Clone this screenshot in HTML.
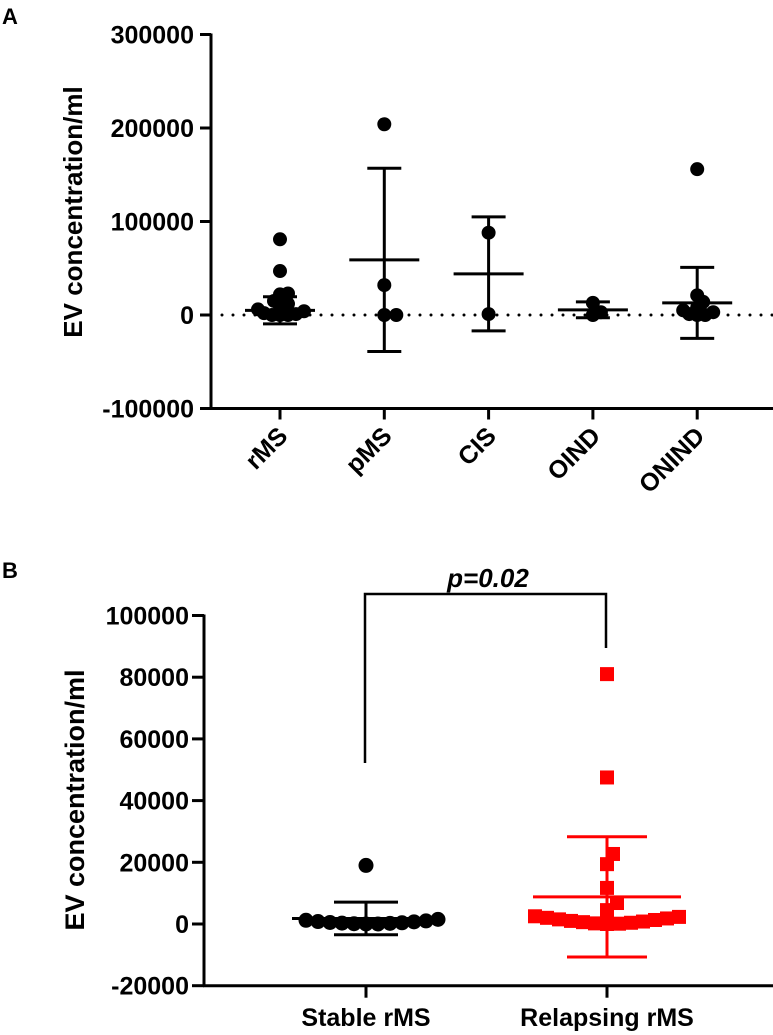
<!DOCTYPE html>
<html><head><meta charset="utf-8"><style>
html,body{margin:0;padding:0;background:#fff;}
svg{display:block;font-family:"Liberation Sans",Arial,sans-serif;font-weight:bold;}
</style></head><body>
<svg id="fig" width="773" height="1035" viewBox="0 0 773 1035" xmlns="http://www.w3.org/2000/svg">
<text x="2" y="24" font-size="22">A</text>
<text x="2" y="578" font-size="22">B</text>
<text transform="translate(82,212) rotate(-90)" text-anchor="middle" font-size="26">EV concentration/ml</text>
<text transform="translate(84,800) rotate(-90)" text-anchor="middle" font-size="27">EV concentration/ml</text>
<g id="gA"></g>
<g id="gB"></g>
<g stroke="#000" stroke-width="2.5" fill="none">
<polyline points="365,763 365,594 606,594 606,648"/>
</g>
<text x="488" y="587" text-anchor="middle" font-size="26" font-style="italic">p=0.02</text>
</svg>
<script>
const catsA=['rMS','pMS','CIS','OIND','ONIND'];
const ticksA=[300000,200000,100000,0,-100000];
const rmsA=[81000,47000,23000,22000,15000,12000,9000,6000,4000,2000,1000,0,0,0];
const pmsA=[204000,32000,0,0];
const cisA=[88000,1000];
const oindA=[0,3000,13000];
const onindA=[156000,21000,14000,8000,5000,3000,1000,0,0];
const meansA=[5000,59000,44000,5500,13000];
const sdsA=[14500,98000,61000,8500,38000];

const catsB=['Stable rMS','Relapsing rMS'];
const ticksB=[100000,80000,60000,40000,20000,0,-20000];
const stableB=[19000,1500,1200,1000,800,700,500,400,300,200,100,0,0];
const relapsingB=[81000,47500,22700,19400,11700,6800,4500,2500,2300,2000,1800,1500,1300,1000,800,600,400,200,100,0];
const meansB=[1800,8800];
const sdsB=[5300,19500];

const NS='http://www.w3.org/2000/svg';
function mk(tag,attrs,parent){const e=document.createElementNS(NS,tag);for(const k in attrs)e.setAttribute(k,attrs[k]);parent.appendChild(e);return e;}
function swarm(vals,ys,minD){
  const s=vals.slice().sort((a,b)=>a-b);const placed=[];
  for(const v of s){const y=ys(v);let k=0;
    while(true){const off=(k===0?0:(k%2?1:-1)*Math.ceil(k/2)*2);
      if(placed.every(p=>(p.dx-off)*(p.dx-off)+(p.y-y)*(p.y-y)>=minD*minD)){placed.push({dx:off,y:y});break;}k++;}
  }return placed;}

// Panel A
const gA=document.getElementById('gA');
const yA=v=>315-v*93.5/100000;
const xA=i=>280+i*104.3;
const axA=211;
let e=mk('line',{x1:axA,y1:yA(0),x2:773,y2:yA(0),stroke:'#000','stroke-width':3,'stroke-dasharray':'0 11','stroke-linecap':'round'},gA);


e=mk('line',{x1:axA,y1:yA(300000)-1,x2:axA,y2:yA(-100000),stroke:'#000','stroke-width':3},gA);


e=mk('line',{x1:axA-1,y1:yA(-100000),x2:773,y2:yA(-100000),stroke:'#000','stroke-width':3},gA);


ticksA.forEach(t=>{
  mk('line',{x1:axA-11,y1:yA(t),x2:axA,y2:yA(t),stroke:'#000','stroke-width':3},gA);
  const tx=mk('text',{x:axA-17,y:yA(t)+9,'text-anchor':'end','font-size':25},gA);
  tx.textContent=String(t);
  
  
});
const groupsA=[rmsA,pmsA,cisA,oindA,onindA];
catsA.forEach((c,i)=>{
  const x=xA(i);
  mk('line',{x1:x,y1:yA(-100000),x2:x,y2:yA(-100000)+11,stroke:'#000','stroke-width':3},gA);
  const tx=mk('text',{'text-anchor':'end','font-size':25,transform:`translate(${x+9},${yA(-100000)+29}) rotate(-45)`},gA);
  tx.textContent=c;
  
  
  swarm(groupsA[i],yA,i===1?12:7).forEach(p=>{
    const d=mk('circle',{cx:x+p.dx,cy:p.y,r:7,fill:'#000'},gA);
    
    
  });
  const m=meansA[i],s=sdsA[i];
  const eb=mk('g',{stroke:'#000','stroke-width':3},gA);
  
  
  mk('line',{x1:x-35,y1:yA(m),x2:x+35,y2:yA(m)},eb);
  mk('line',{x1:x,y1:yA(m+s),x2:x,y2:yA(m-s)},eb);
  mk('line',{x1:x-17,y1:yA(m+s),x2:x+17,y2:yA(m+s)},eb);
  mk('line',{x1:x-17,y1:yA(m-s),x2:x+17,y2:yA(m-s)},eb);
});

// Panel B
const gB=document.getElementById('gB');
const yB=v=>924-v*61.7/20000;
const xB=i=>366+i*241;
const axB=204;
e=mk('line',{x1:axB,y1:yB(100000)-1,x2:axB,y2:yB(-20000),stroke:'#000','stroke-width':3},gB);


e=mk('line',{x1:axB-1,y1:yB(-20000),x2:773,y2:yB(-20000),stroke:'#000','stroke-width':3},gB);


ticksB.forEach(t=>{
  mk('line',{x1:axB-12,y1:yB(t),x2:axB,y2:yB(t),stroke:'#000','stroke-width':3},gB);
  const tx=mk('text',{x:axB-15,y:yB(t)+9,'text-anchor':'end','font-size':25},gB);
  tx.textContent=String(t);
  
  
});
const groupsB=[stableB,relapsingB];
const colB=['#000','#ff0000'];
catsB.forEach((c,i)=>{
  const x=xB(i);
  mk('line',{x1:x,y1:yB(-20000),x2:x,y2:yB(-20000)+12,stroke:'#000','stroke-width':3},gB);
  const tx=mk('text',{x:x,y:1026,'text-anchor':'middle','font-size':25},gB);
  tx.textContent=c;
  
  
  swarm(groupsB[i],yB,i===0?12:11).forEach(p=>{
    let d;
    if(i===0) d=mk('circle',{cx:x+p.dx,cy:p.y,r:7.5,fill:colB[i]},gB);
    else d=mk('rect',{x:x+p.dx-7,y:p.y-7,width:14,height:14,fill:colB[i]},gB);
    
    
  });
  const m=meansB[i],s=sdsB[i];
  const eb=mk('g',{stroke:colB[i],'stroke-width':3},gB);
  
  
  mk('line',{x1:x-74,y1:yB(m),x2:x+74,y2:yB(m)},eb);
  mk('line',{x1:x,y1:yB(m+s),x2:x,y2:yB(m-s)},eb);
  const cw=i===0?32:40;
  mk('line',{x1:x-cw,y1:yB(m+s),x2:x+cw,y2:yB(m+s)},eb);
  mk('line',{x1:x-cw,y1:yB(m-s),x2:x+cw,y2:yB(m-s)},eb);
});
</script>
</body></html>
